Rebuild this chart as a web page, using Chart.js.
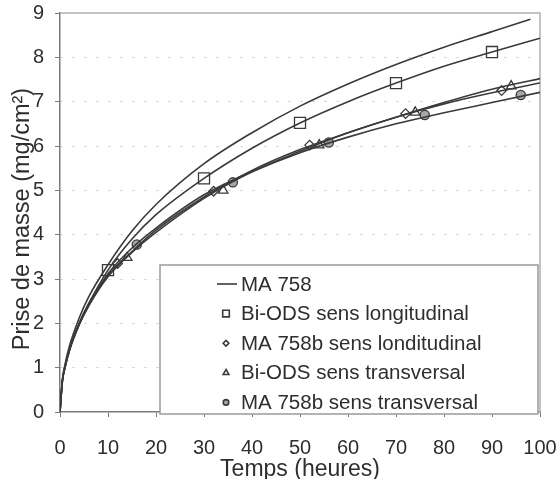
<!DOCTYPE html>
<html>
<head>
<meta charset="utf-8">
<script src="https://cdn.jsdelivr.net/npm/chart.js@4.4.0/dist/chart.umd.min.js"></script>
<style>
  html, body { margin: 0; padding: 0; background: #fff; }
  #wrap { width: 559px; height: 479px; }
</style>
</head>
<body>
<div id="wrap"><canvas id="myChart" width="559" height="479"></canvas></div>
<script>
// courbes lissées
const hoursMA758 = [0, 0.5, 1, 2, 4, 6, 10, 15, 20, 30, 40, 50, 60, 70, 80, 90, 98];
const curveMA758 = [0, 0.74, 1.05, 1.5, 2.12, 2.6, 3.32, 4.08, 4.68, 5.6, 6.3, 6.9, 7.4, 7.84, 8.23, 8.58, 8.86];

const hoursFit = [0, 0.5, 1, 2, 4, 6, 10, 15, 20, 30, 40, 50, 60, 70, 80, 90, 100];
const curveBiLong = [0, 0.7, 1.0, 1.42, 2.0, 2.45, 3.2, 3.9, 4.45, 5.27, 5.95, 6.52, 7.0, 7.42, 7.8, 8.12, 8.43];
const curveMAbLong = [0, 0.7, 0.98, 1.4, 1.97, 2.4, 3.08, 3.62, 4.1, 4.85, 5.45, 5.92, 6.3, 6.65, 6.95, 7.2, 7.42];
const curveBiTrans = [0, 0.7, 0.98, 1.4, 1.97, 2.4, 3.05, 3.6, 4.05, 4.82, 5.42, 5.88, 6.3, 6.65, 6.98, 7.28, 7.52];
const curveMAbTrans = [0, 0.7, 1.0, 1.42, 2.0, 2.45, 3.12, 3.7, 4.15, 4.9, 5.42, 5.85, 6.2, 6.5, 6.75, 6.98, 7.21];

// points mesurés
const hoursBiLong = [10, 30, 50, 70, 90];
const massBiLong = [3.2, 5.27, 6.52, 7.42, 8.12];
const hoursMAbLong = [12, 32, 52, 72, 92];
const massMAbLong = [3.35, 4.98, 6.02, 6.73, 7.25];
const hoursBiTrans = [14, 34, 54, 74, 94];
const massBiTrans = [3.48, 5.0, 6.02, 6.76, 7.35];
const hoursMAbTrans = [16, 36, 56, 76, 96];
const massMAbTrans = [3.78, 5.18, 6.08, 6.7, 7.15];

const legendLabels = [
  "MA 758",
  "Bi-ODS sens longitudinal",
  "MA 758b sens londitudinal",
  "Bi-ODS sens transversal",
  "MA 758b sens transversal"
];

const xTicks = [0, 10, 20, 30, 40, 50, 60, 70, 80, 90, 100];
const yTicks = [0, 1, 2, 3, 4, 5, 6, 7, 8, 9];

const ink = "#3a3a3a";
const pts = (xs, ys) => xs.map((x, i) => ({ x: x, y: ys[i] }));

const curve = (xs, ys) => ({
  type: "line",
  data: pts(xs, ys),
  borderColor: ink,
  borderWidth: 1.6,
  pointRadius: 0,
  fill: false,
  cubicInterpolationMode: "monotone"
});

const markerStyles = [
  null,
  { pointStyle: "rect", radius: 7.8, fill: "#fff" },
  { pointStyle: "rectRot", radius: 4.8, fill: "#fff" },
  { pointStyle: "triangle", radius: 5.5, fill: "#fff" },
  { pointStyle: "circle", radius: 4.6, fill: "#a8a8a8" }
];

const markers = (xs, ys, s) => ({
  type: "scatter",
  data: pts(xs, ys),
  showLine: false,
  pointStyle: s.pointStyle,
  pointRadius: s.radius,
  pointBackgroundColor: s.fill,
  pointBorderColor: ink,
  pointBorderWidth: 1.3
});

const frame = {
  id: "frame",
  beforeDatasetsDraw(chart) {
    const { ctx, chartArea: a } = chart;
    ctx.save();
    ctx.strokeStyle = "#b0b0b0";
    ctx.lineWidth = 1.5;
    ctx.beginPath();
    ctx.moveTo(a.left, a.top);
    ctx.lineTo(a.right, a.top);
    ctx.lineTo(a.right, a.bottom);
    ctx.stroke();
    ctx.restore();
  }
};

const legendBox = {
  id: "legendBox",
  afterDraw(chart) {
    const ctx = chart.ctx;
    ctx.save();
    ctx.fillStyle = "#fff";
    ctx.fillRect(160, 265, 378, 149);
    ctx.strokeStyle = "#9a9a9a";
    ctx.lineWidth = 1.5;
    ctx.strokeRect(160, 265, 378, 149);

    ctx.font = "20.5px 'Liberation Sans', Arial, sans-serif";
    ctx.textBaseline = "middle";
    legendLabels.forEach((label, i) => {
      const y = 284 + i * 29.6;
      if (i === 0) {
        ctx.strokeStyle = ink;
        ctx.lineWidth = 1.6;
        ctx.beginPath();
        ctx.moveTo(217, y);
        ctx.lineTo(237, y);
        ctx.stroke();
      } else {
        const s = markerStyles[i];
        ctx.fillStyle = s.fill;
        ctx.strokeStyle = ink;
        Chart.helpers.drawPoint(ctx, { pointStyle: s.pointStyle, radius: s.radius * 0.6, borderWidth: 1.1, rotation: 0 }, 226, y);
      }
      ctx.fillStyle = "#2e2e2e";
      ctx.fillText(label, 241, y + 1);
    });
    ctx.restore();
  }
};

const fontFamily = "'Liberation Sans', Arial, sans-serif";

new Chart(document.getElementById("myChart"), {
  data: {
    datasets: [
      curve(hoursMA758, curveMA758),
      curve(hoursFit, curveBiLong),
      curve(hoursFit, curveMAbLong),
      curve(hoursFit, curveBiTrans),
      curve(hoursFit, curveMAbTrans),
      markers(hoursBiLong, massBiLong, markerStyles[1]),
      markers(hoursMAbLong, massMAbLong, markerStyles[2]),
      markers(hoursBiTrans, massBiTrans, markerStyles[3]),
      markers(hoursMAbTrans, massMAbTrans, markerStyles[4])
    ]
  },
  options: {
    responsive: false,
    animation: false,
    layout: { padding: { left: 0, right: 19, top: 13, bottom: 0 } },
    plugins: { legend: { display: false }, tooltip: { enabled: false } },
    scales: {
      x: {
        type: "linear",
        min: 0,
        max: 100,
        afterBuildTicks: (s) => { s.ticks = xTicks.map(v => ({ value: v })); },
        afterFit: (s) => { s.height = 67; s.paddingLeft = 0; s.paddingRight = 0; },
        border: { color: "#7a7a7a", width: 1.5 },
        grid: { drawOnChartArea: false, drawTicks: true, tickLength: 5, tickColor: "#7a7a7a" },
        ticks: { autoSkip: false, color: "#2e2e2e", padding: 19, maxRotation: 0, font: { family: fontFamily, size: 20 } },
        title: { display: true, text: "Temps (heures)", color: "#2e2e2e", padding: 0, font: { family: fontFamily, size: 23, lineHeight: 0.8 } }
      },
      y: {
        type: "linear",
        min: 0,
        max: 9,
        afterBuildTicks: (s) => { s.ticks = yTicks.map(v => ({ value: v })); },
        afterFit: (s) => { s.width = 60; s.paddingTop = 0; s.paddingBottom = 0; },
        border: { color: "#7a7a7a", width: 1.5, dash: [2, 10] },
        grid: {
          color: (c) => (c.tick && (c.tick.value === 0 || c.tick.value === 9)) ? "rgba(0,0,0,0)" : "#c8c8c8",
          tickLength: 5,
          tickColor: "#7a7a7a",
          tickBorderDash: []
        },
        ticks: { autoSkip: false, color: "#2e2e2e", padding: 11, font: { family: fontFamily, size: 20 } },
        title: { display: true, text: "Prise de masse (mg/cm²)  ", color: "#2e2e2e", padding: { top: 8, bottom: 0 }, font: { family: fontFamily, size: 23.5, lineHeight: 1.2 } }
      }
    }
  },
  plugins: [frame, legendBox]
});
</script>
</body>
</html>
